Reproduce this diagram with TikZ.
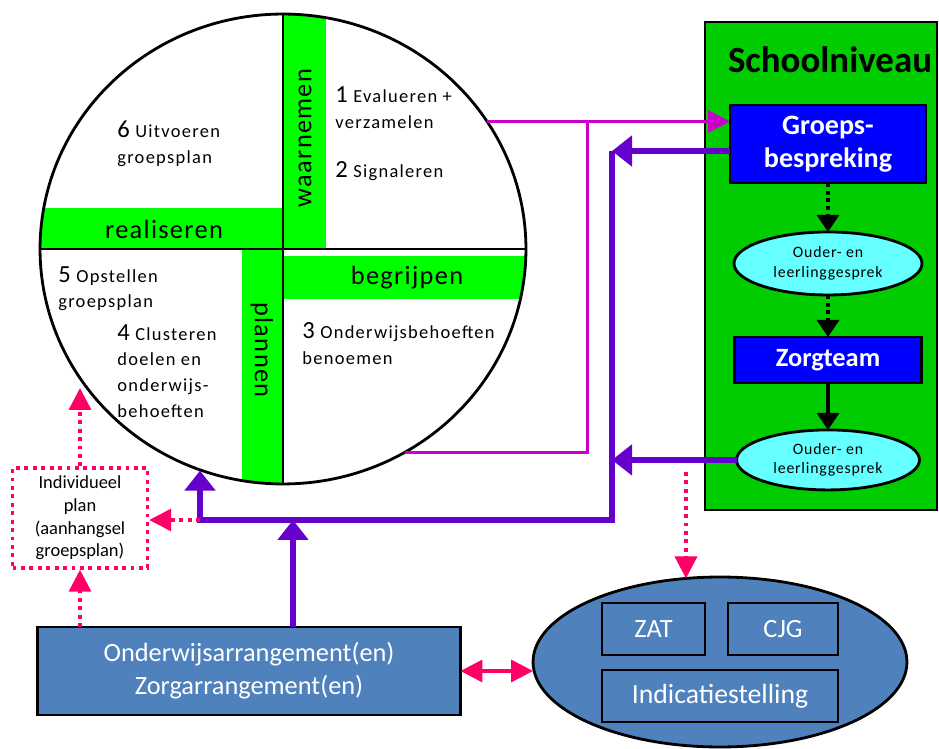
\documentclass[tikz,border=0pt]{standalone}
\usepackage{fontspec}
\setmainfont{Carlito}
\newfontfamily\ruim{Carlito}[LetterSpace=7]
\newfontfamily\halfruim{Carlito}[LetterSpace=5]
\usetikzlibrary{positioning,shapes.geometric,arrows.meta}
\definecolor{bandgreen}{HTML}{00FF00}
\definecolor{schoolgreen}{HTML}{00CC00}
\definecolor{grpblue}{HTML}{0000FF}
\definecolor{talkcyan}{HTML}{66FFFF}
\definecolor{arrblue}{HTML}{4F81BD}
\definecolor{loopmag}{HTML}{CC00CC}
\definecolor{backpurp}{HTML}{6600CC}
\definecolor{planpink}{HTML}{FF0066}
\newcommand{\stapnr}[1]{{\fontsize{14}{14}\selectfont #1}}

\begin{document}
\begin{tikzpicture}[x=0.02cm,y=-0.02cm]
\tikzstyle{main}=[draw=black, line width=1.6pt, inner sep=0pt, outer sep=0pt]
\tikzstyle{blok}=[main, rectangle, fill=grpblue, text=white, align=center, font=\bfseries\fontsize{16}{18.5}\selectfont]
\tikzstyle{gesprek}=[main, ellipse, fill=talkcyan, align=center, font=\halfruim\fontsize{9}{11}\selectfont, minimum width=3.76cm, minimum height=1.26cm]
\tikzstyle{arrbox}=[main, rectangle, fill=arrblue, text=white, align=center, font=\fontsize{15}{18.7}\selectfont]
\tikzstyle{band}=[fill=bandgreen]
\tikzstyle{bandtext}=[inner sep=0pt, font=\halfruim\fontsize{15}{15}\selectfont]
\tikzstyle{stap}=[anchor=north west, align=left, inner sep=0pt, font=\ruim\fontsize{10.5}{14.7}\selectfont]
\tikzstyle{lus}=[loopmag, line width=1.7pt]
\tikzstyle{terug}=[backpurp, line width=3.4pt]
\tikzstyle{plan}=[planpink, line width=2pt, dash pattern=on 2.2pt off 2.6pt]
\tikzstyle{doorgaan}=[black, line width=2pt, dash pattern=on 2.2pt off 2.2pt]
\tikzstyle{tipmag}=[-{Triangle[length=4.4mm,width=4.4mm]}]
\tikzstyle{tippaars}=[-{Triangle[length=4mm,width=6mm]}]
\tikzstyle{tiproze}=[-{Triangle[length=4.4mm,width=4.4mm]}]
\tikzstyle{tipzwart}=[-{Triangle[length=3.4mm,width=4.4mm]}]
\useasboundingbox (0,0) rectangle (939,749);

  % cirkel met de vier fasen
  \fill[white] (283,249) ellipse [x radius=4.86cm, y radius=4.7cm];
  \begin{scope}
    \clip (283,249) ellipse [x radius=4.86cm, y radius=4.7cm];
    \fill[band] (30,208) rectangle (283,249);
    \fill[band] (283,0) rectangle (326,249);
    \fill[band] (283,256) rectangle (540,299);
    \fill[band] (242,249) rectangle (283,500);
  \end{scope}
  \node[main, ellipse, minimum width=9.72cm, minimum height=9.4cm] (cyc) at (283,249) {};
  \draw[line width=1.6pt] (cyc.north) -- (cyc.south) (cyc.west) -- (cyc.east);
  \node[bandtext] (real) at (164,229) {realiseren};
  \node[bandtext, rotate=90] (waar) at (305,138) {waarnemen};
  \node[bandtext] (begr) at (407,278) {begrijpen};
  \node[bandtext, rotate=-90] (plan) at (262,350) {plannen};

  \node[stap] (s6) at (117,121) {\stapnr{6} Uitvoeren\\groepsplan};
  \node[stap] (s1) at (335,86) {\stapnr{1} Evalueren +\\verzamelen};
  \node[stap] (s2) at (335,161) {\stapnr{2} Signaleren};
  \node[stap] (s5) at (58,266) {\stapnr{5} Opstellen\\groepsplan};
  \node[stap] (s4) at (117,324) {\stapnr{4} Clusteren\\doelen en\\onderwijs-\\behoeften};
  \node[stap] (s3) at (302,322) {\stapnr{3} Onderwijsbehoeften\\benoemen};

  % schoolniveau
  \node[main, rectangle, fill=schoolgreen, minimum width=4.64cm, minimum height=9.76cm] (school) at (821,266) {};
  \node[font=\bfseries\fontsize{21}{21}\selectfont] (niveau) at (830,60) {Schoolniveau};
  \node[blok, minimum width=3.92cm, minimum height=1.56cm] (grp) at (828,144) {Groeps-\\bespreking};
  \node[gesprek] (og1) [below=0.98cm of grp] {Ouder- en\\leerlinggesprek};
  \node[blok, minimum width=3.74cm, minimum height=0.92cm, font=\bfseries\fontsize{15}{18}\selectfont] (zorg) [below=0.84cm of og1] {Zorgteam};
  \node[gesprek, minimum width=3.66cm, minimum height=1.2cm] (og2) [below=0.94cm of zorg] {Ouder- en\\leerlinggesprek};
  \path (grp) edge [doorgaan, tipzwart] (og1)
        (og1) edge [doorgaan, tipzwart] (zorg)
        (zorg) edge [black, line width=2pt, tipzwart] (og2);

  % arrangementen en netwerk
  \node[arrbox, minimum width=8.46cm, minimum height=1.76cm] (arr) at (249,671) {Onderwijsarrangement(en)\\Zorgarrangement(en)};
  \node[main, ellipse, fill=arrblue, minimum width=7.48cm, minimum height=3.4cm] (net) at (720,662) {};
  \node[arrbox, minimum width=2.06cm, minimum height=1.04cm] (zat) at (653.5,629) {ZAT};
  \node[arrbox, minimum width=2.2cm, minimum height=1.04cm] (cjg) at (783,629) {CJG};
  \node[arrbox, minimum width=4.72cm, minimum height=1.04cm, font=\fontsize{15.8}{18}\selectfont] (ind2) at (720,696) {Indicatiestelling};
  \node[draw=planpink, line width=2pt, dash pattern=on 2.2pt off 2.6pt, minimum width=2.7cm, minimum height=2cm, align=center, font=\fontsize{10.5}{12.9}\selectfont] (ind) at (80,518) {Individueel\\plan\\(aanhangsel\\groepsplan)};

  \coordinate (ja) at (612,151);
  \coordinate (jb) at (612,520);
  \coordinate (jc) at (200,520);
  \coordinate (jd) at (293,520);
  \coordinate (mv) at (587,452);
  \coordinate (tipind) at (80,388);
  \coordinate (zs) at (686,472);

  \draw[lus, tipmag] (cyc.32) -- (cyc.32 -| grp.west);
  \draw[lus] (cyc.-59) -- (cyc.-59 -| mv) -- (mv |- cyc.32);
  \draw[terug, tippaars] (grp.west |- ja) -- (ja);
  \draw[terug, tippaars] (og2.west) -- (og2.west -| ja);
  \draw[terug, tippaars] (ja) -- (jb) -- (jc) -- (jc |- cyc.-110.6);
  \draw[terug, tippaars] (arr.north -| jd) -- (jd);
  \draw[plan, tiproze] (jc) -- (ind.east |- jc);
  \draw[plan, tiproze] (ind.north) -- (tipind);
  \draw[plan, tiproze] (arr.north -| ind.south) -- (ind.south);
  \draw[plan, tiproze] (zs) -- (zs |- net.112);
  \draw[planpink, line width=2pt, {Triangle[length=4.4mm,width=4.4mm]}-{Triangle[length=4.4mm,width=4.4mm]}] (arr.east) -- (arr.east -| net.west);
\end{tikzpicture}
\end{document}
